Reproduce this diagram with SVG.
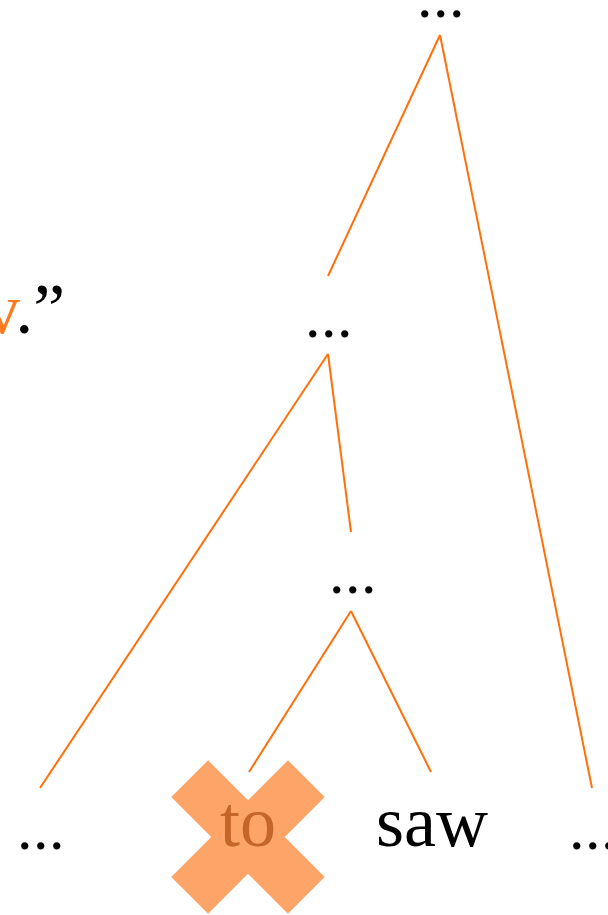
<svg xmlns="http://www.w3.org/2000/svg" width="608" height="915" viewBox="0 0 608 915">
<style>
.t{font-family:"Liberation Serif","DejaVu Serif",serif;font-size:72px;fill:#000}
.d{font-size:62px;letter-spacing:0.5px}
.e{stroke:#FF6F0A;stroke-width:2;fill:none}
</style>
<rect width="608" height="915" fill="#fff"/>
<g id="edges">
<line class="e" x1="440" y1="35" x2="328" y2="276"/>
<line class="e" x1="440" y1="35" x2="592" y2="788"/>
<line class="e" x1="328" y1="354" x2="40" y2="788"/>
<line class="e" x1="328" y1="354" x2="351" y2="532"/>
<line class="e" x1="351" y1="611" x2="249" y2="772"/>
<line class="e" x1="351" y1="611" x2="431" y2="772"/>
</g>
<g id="quote"><text class="t" x="-16" y="333"><tspan fill="#FF7A1E">v</tspan>.”</text></g>
<g id="root"><text class="t d" x="441" y="17" text-anchor="middle">...</text></g>
<g id="mid"><text class="t d" x="329" y="337" text-anchor="middle">...</text></g>
<g id="low"><text class="t d" x="353" y="593" text-anchor="middle">...</text></g>
<g id="leaf1"><text class="t d" x="41" y="849" text-anchor="middle">...</text></g>
<g id="leaf2">
<g transform="translate(248 837)" fill="#FDA468">
<rect x="-82.5" y="-26" width="165" height="52" transform="rotate(45)"/>
<rect x="-82.5" y="-26" width="165" height="52" transform="rotate(-45)"/>
</g>
<text class="t" x="248" y="846" text-anchor="middle" style="fill:#C4652A">to</text>
</g>
<g id="leaf3"><text class="t" x="432" y="846" text-anchor="middle">saw</text></g>
<g id="leaf4"><text class="t d" x="593" y="849" text-anchor="middle">...</text></g>
</svg>
